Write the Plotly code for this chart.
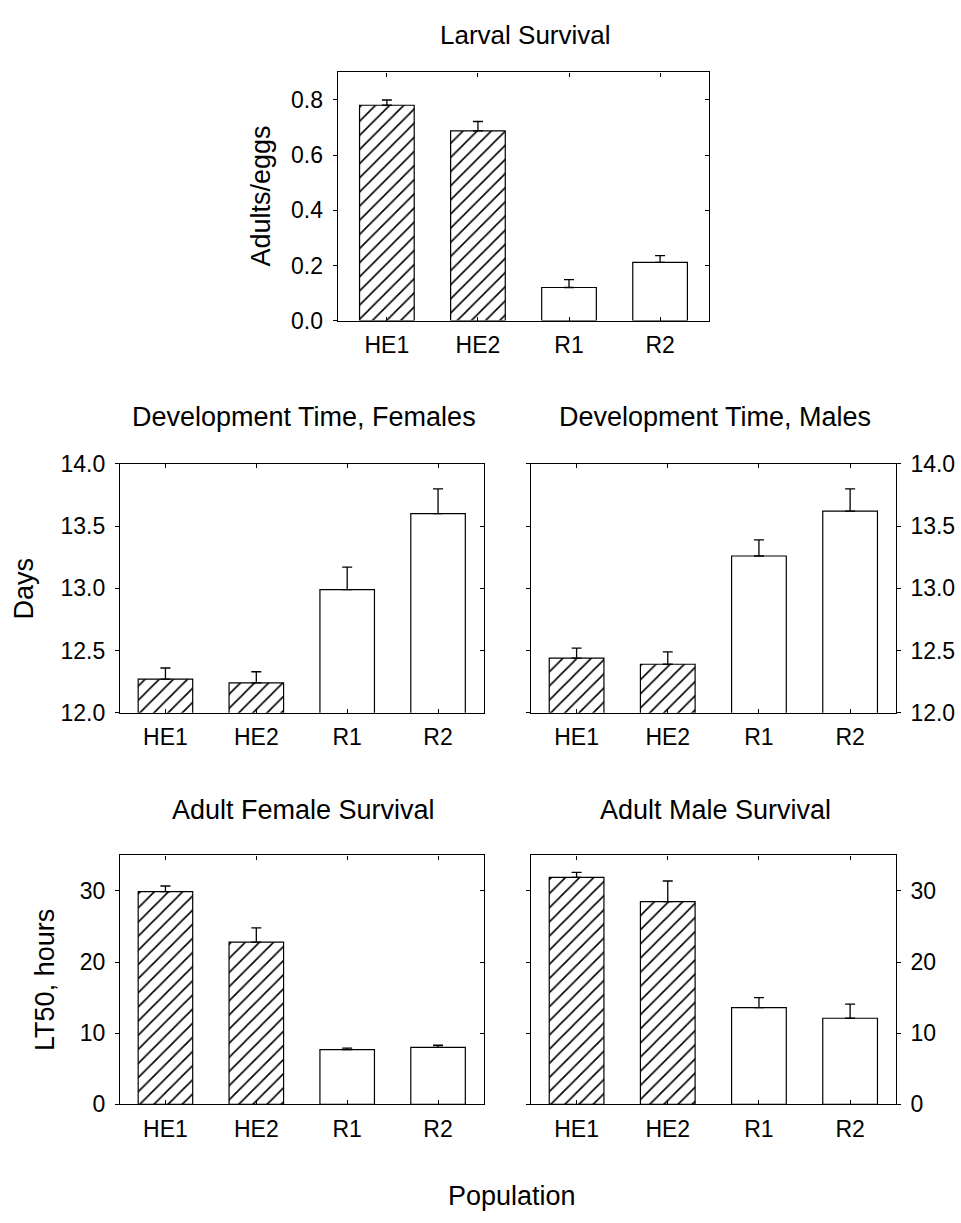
import plotly.graph_objects as go

# ---------------- data ----------------
categories = ["HE1", "HE2", "R1", "R2"]
hatch_shapes = ["/", "/", "", ""]

larval_mean = [0.781, 0.688, 0.120, 0.211]
larval_se = [0.019, 0.034, 0.029, 0.025]

dev_f_mean = [12.27, 12.24, 12.99, 13.60]
dev_f_se = [0.09, 0.09, 0.18, 0.20]

dev_m_mean = [12.44, 12.39, 13.26, 13.62]
dev_m_se = [0.08, 0.10, 0.13, 0.18]

surv_f_mean = [29.9, 22.8, 7.7, 8.0]
surv_f_se = [0.8, 2.0, 0.2, 0.3]

surv_m_mean = [31.9, 28.5, 13.6, 12.1]
surv_m_se = [0.7, 2.9, 1.4, 2.0]

titles = ["Larval Survival", "Development Time, Females", "Development Time, Males",
          "Adult Female Survival", "Adult Male Survival"]
y_titles = ["Adults/eggs", "Days", "LT50, hours"]
x_title = "Population"

# ---------------- layout helpers ----------------
W, H = 961, 1223
FONT = "Arial, 'Liberation Sans', Helvetica, sans-serif"
TICK_SIZE = 23
TITLE_SIZE = 27
AXTITLE_SIZE = 27


def px_x(p):
    return p / W


def px_y(p):
    return 1 - p / H


# panel pixel boxes: (left, right, top, bottom)
boxes = {
    1: (337.7, 709.0, 60.7, 314.3),
    2: (120.0, 483.5, 460.7, 715.0),
    3: (531.0, 895.7, 460.7, 715.0),
    4: (120.0, 483.5, 860.7, 1115.0),
    5: (531.0, 895.7, 860.7, 1115.0),
}

panels = [
    # idx, means, ses, yrange, dtick, fmt, side, overlay-axis index, xrange
    (1, larval_mean, larval_se, [0, 0.9], 0.2, ".1f", "left", 6, [-0.54, 3.537]),
    (2, dev_f_mean, dev_f_se, [12, 14], 0.5, ".1f", "left", 7, [-0.5, 3.5]),
    (3, dev_m_mean, dev_m_se, [12, 14], 0.5, ".1f", "right", None, [-0.5, 3.5]),
    (4, surv_f_mean, surv_f_se, [0, 35], 10, "d", "left", 8, [-0.5, 3.5]),
    (5, surv_m_mean, surv_m_se, [0, 35], 10, "d", "right", None, [-0.5, 3.5]),
]

fig = go.Figure()
layout_axes = {}

for idx, means, ses, yr, dt, fmt, side, ov, xr in panels:
    l, r, t, b = boxes[idx]
    xname = "x" if idx == 1 else f"x{idx}"
    yname = "y" if idx == 1 else f"y{idx}"
    xkey = "xaxis" if idx == 1 else f"xaxis{idx}"
    ykey = "yaxis" if idx == 1 else f"yaxis{idx}"

    fig.add_trace(go.Bar(
        x=categories, y=means, width=0.6,
        xaxis=xname, yaxis=yname,
        marker=dict(color="white", line=dict(color="black", width=1.2),
                    pattern=dict(shape=hatch_shapes, fgcolor="black", fgopacity=1,
                                 bgcolor="white", size=10, solidity=0.16)),
        showlegend=False, hoverinfo="x+y",
    ))

    err_y = yname if ov is None else f"y{ov}"
    fig.add_trace(go.Scatter(
        x=categories, y=means, mode="markers",
        xaxis=xname, yaxis=err_y,
        marker=dict(size=1, color="rgba(0,0,0,0)"),
        error_y=dict(type="data", array=ses, arrayminus=[0] * len(ses),
                     symmetric=False, color="black", thickness=1.3, width=5),
        showlegend=False, hoverinfo="skip",
    ))

    layout_axes[xkey] = dict(
        domain=[px_x(l), px_x(r)], anchor=yname, type="category",
        categoryorder="array", categoryarray=categories, range=xr,
        showline=True, linecolor="black", linewidth=1.2, mirror="ticks",
        ticks="inside", ticklen=4, tickcolor="black", tickwidth=1,
        ticklabelstandoff=4,
        showgrid=False, zeroline=False,
        tickfont=dict(family=FONT, size=TICK_SIZE, color="black"),
        fixedrange=True,
    )
    yax = dict(
        domain=[px_y(b), px_y(t)], anchor=xname, range=yr, dtick=dt, tick0=0,
        tickformat=fmt, side=side,
        showline=True, linecolor="black", linewidth=1.2,
        ticks="outside", ticklen=4, tickcolor="black", tickwidth=1,
        ticklabelstandoff=5,
        showgrid=False, zeroline=False,
        tickfont=dict(family=FONT, size=TICK_SIZE, color="black"),
        fixedrange=True,
    )
    if ov is None:
        yax["mirror"] = "ticks"
    else:
        yax["mirror"] = True
        layout_axes[f"yaxis{ov}"] = dict(
            overlaying=yname, side="right", anchor=xname, range=yr, dtick=dt,
            tick0=0, showline=False, ticks="inside", ticklen=4,
            tickcolor="black", tickwidth=1, showticklabels=False,
            showgrid=False, zeroline=False, fixedrange=True,
        )
    layout_axes[ykey] = yax

annotations = []
# subplot titles (pixel y of text centre)
title_pos = [(1, 22, 26), (2, 413, TITLE_SIZE), (3, 413, TITLE_SIZE),
             (4, 814, TITLE_SIZE), (5, 814, TITLE_SIZE)]
for (idx, ypix, fsize), text in zip(title_pos, titles):
    l, r, t, b = boxes[idx]
    annotations.append(dict(
        text=text, x=px_x((l + r) / 2 + 2), y=px_y(ypix), xref="paper", yref="paper",
        xanchor="center", yanchor="middle", showarrow=False,
        font=dict(family=FONT, size=fsize, color="black"),
    ))

# y-axis titles
ytitle_pos = [(261, 187.5), (24, 587.9), (45, 987.9)]
for (xp, yp), text in zip(ytitle_pos, y_titles):
    annotations.append(dict(
        text=text, x=px_x(xp), y=px_y(yp), xref="paper", yref="paper",
        xanchor="center", yanchor="middle", showarrow=False, textangle=-90,
        font=dict(family=FONT, size=AXTITLE_SIZE, color="black"),
    ))

# shared x title
annotations.append(dict(
    text=x_title, x=px_x(511.7), y=px_y(1209), xref="paper", yref="paper",
    xanchor="center", yanchor="middle", showarrow=False,
    font=dict(family=FONT, size=AXTITLE_SIZE, color="black"),
))

fig.update_layout(
    width=W, height=H,
    margin=dict(l=0, r=0, t=0, b=0),
    paper_bgcolor="white", plot_bgcolor="white",
    showlegend=False, bargap=0.4,
    annotations=annotations,
    **layout_axes,
)

fig.write_html("out.html", config={"displayModeBar": False})
